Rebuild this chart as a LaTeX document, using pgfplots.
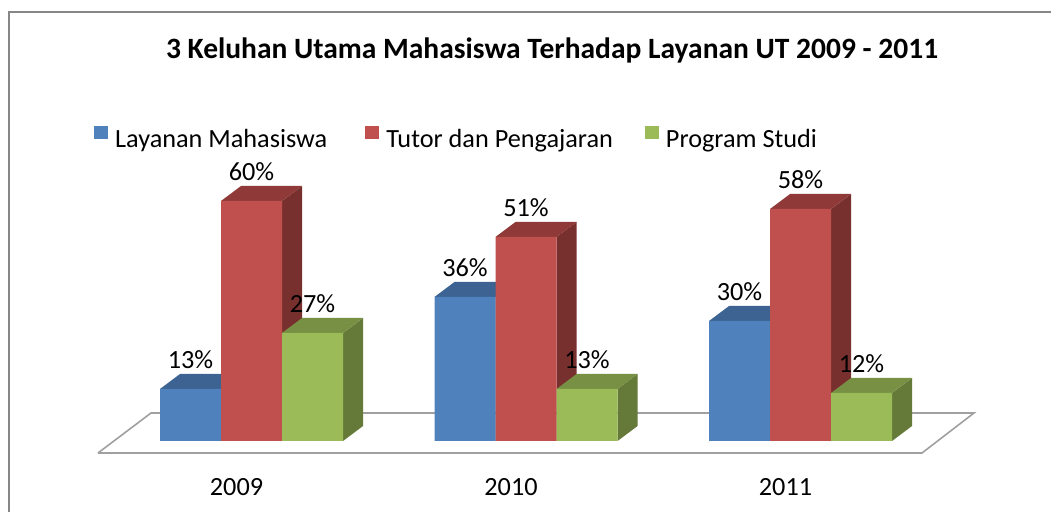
\documentclass[border=0pt]{standalone}
\usepackage{pgfplots}
\pgfplotsset{compat=1.18}
\usepackage{pgfplotstable}
\usepackage{fontspec}
\setmainfont{Carlito}

\definecolor{bF}{HTML}{4F81BD}
\definecolor{bT}{HTML}{3C6391}
\definecolor{bS}{HTML}{2F4F75}
\definecolor{rF}{HTML}{C0504D}
\definecolor{rT}{HTML}{8F3A38}
\definecolor{rS}{HTML}{78302E}
\definecolor{gF}{HTML}{9BBB59}
\definecolor{gT}{HTML}{779044}
\definecolor{gS}{HTML}{657A38}
\definecolor{floorc}{HTML}{A0A0A0}
\definecolor{framec}{HTML}{878787}

\pgfplotstableread{
x  blue red green
0  13   60  27
1  36   51  13
2  30   58  12
}\data

\newcommand\lbl{\fontsize{26.25bp}{30bp}\selectfont}

\pgfplotsset{sq legend/.style={legend image code/.code={\fill[##1] (0bp,0.7bp) rectangle (14bp,14bp);}},
  lab/.style={nodes near coords={\pgfmathprintnumber{\pgfplotspointmeta}\%},
  every node near coord/.append style={font=\lbl, anchor=base, yshift=20.6bp, xshift=#1, inner sep=0pt, text=black}}}

% side and top faces of the 3-D bars, computed from the table
\newcommand\drawfaces[4]{%
  \pgfplotsforeachungrouped \myr in {0,1,2}{%
    \pgfplotstablegetelem{\myr}{#2}\of\data
    \pgfmathsetmacro\myv{\pgfplotsretval}%
    \pgfmathsetmacro\xl{\myr + (#1-1.5)*0.222222}%
    \pgfmathsetmacro\xr{\xl+0.222222}%
    \pgfmathsetmacro\xlb{\xl+0.07286}%
    \pgfmathsetmacro\xrb{\xr+0.07286}%
    \pgfmathsetmacro\vb{\myv+3.75}%
    \edef\cmd{\noexpand\addplot[fill=#4, draw=none, forget plot] coordinates {(\xr,0) (\xrb,3.75) (\xrb,\vb) (\xr,\myv)};}%
    \cmd
    \edef\cmd{\noexpand\addplot[fill=#3, draw=none, forget plot] coordinates {(\xl,\myv) (\xr,\myv) (\xrb,\vb) (\xlb,\vb)};}%
    \cmd
  }%
}

\begin{document}
\begin{tikzpicture}
\begin{axis}[
  at={(0,0)}, anchor=south west,
  scale only axis, width=1051bp, height=512bp,
  xmin=-0.91621, xmax=2.91257, ymin=-17.75, ymax=110.25,
  clip=false,
  axis line style={draw=none},
  tick style={draw=none},
  major tick length=0pt,
  ytick=\empty,
  xtick={0,1,2},
  xticklabels={2009,2010,2011},
  xticklabel style={font=\lbl, anchor=base, xshift=-15bp, yshift=17bp, inner sep=0pt},
  /pgf/number format/assume math mode=true,
  every axis title shift=0pt,
  title={3 Keluhan Utama Mahasiswa Terhadap Layanan UT 2009 - 2011},
  title style={at={(rel axis cs:0.5252,0.8857)}, anchor=base, inner sep=0pt,
    font=\bfseries\fontsize{29.5bp}{33bp}\selectfont},
  legend columns=3,
  legend style={at={(rel axis cs:0.0894,0.7314)}, anchor=west, draw=none, fill=none,
    inner sep=0pt, font=\lbl, nodes={inner sep=0pt},
    /tikz/every odd column/.append style={column sep=7bp},
    /tikz/every even column/.append style={column sep=32bp}},
  legend cell align=left,
]
% floor
\addplot[draw=floorc, line width=1.6bp, forget plot] coordinates
  {(-0.5592,-3) (2.4426,-3) (2.632,7) (-0.3661,7) (-0.5592,-3)};

\drawfaces{0}{blue}{bT}{bS}
\addplot[ybar, bar width=61bp, bar shift=-61bp, fill=bF, draw=none, sq legend, lab=-61bp]
  table[x=x, y=blue]{\data};
\addlegendentry{Layanan Mahasiswa\rule{6bp}{0pt}}

\drawfaces{1}{red}{rT}{rS}
\addplot[ybar, bar width=61bp, bar shift=0bp, fill=rF, draw=none, sq legend, lab=0bp]
  table[x=x, y=red]{\data};
\addlegendentry{Tutor dan Pengajaran}

\drawfaces{2}{green}{gT}{gS}
\addplot[ybar, bar width=61bp, bar shift=61bp, fill=gF, draw=none, sq legend, lab=61bp]
  table[x=x, y=green]{\data};
\addlegendentry{Program Studi}
\end{axis}
\draw[framec, line width=2bp] (9.3bp,-5bp) -- (9.3bp,500bp) -- (1060bp,500bp);
\pgfresetboundingbox
\path[use as bounding box] (0,0) rectangle (1051bp,512bp);
\end{tikzpicture}
\end{document}
